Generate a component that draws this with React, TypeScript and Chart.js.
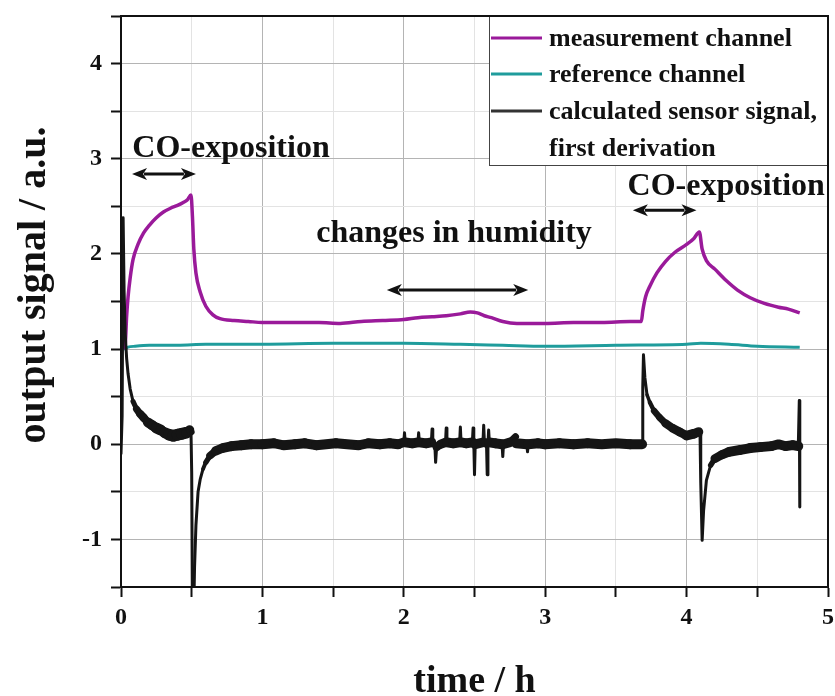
import { useEffect, useRef } from 'react';
import { Chart, registerables } from 'chart.js';

Chart.register(...registerables);

// ---------- data ----------
const measX = [0.02, 0.03, 0.04, 0.05, 0.065, 0.085, 0.12, 0.16, 0.2, 0.25, 0.3, 0.35, 0.4, 0.44, 0.47, 0.495, 0.505, 0.515, 0.53, 0.56, 0.6, 0.65, 0.7, 0.8, 0.9, 1.0, 1.2, 1.4, 1.55, 1.7, 1.85, 2.0, 2.1, 2.2, 2.3, 2.4, 2.47, 2.52, 2.57, 2.62, 2.7, 2.8, 2.9, 3.0, 3.2, 3.4, 3.6, 3.68, 3.69, 3.71, 3.74, 3.79, 3.85, 3.92, 4.0, 4.05, 4.09, 4.11, 4.14, 4.2, 4.28, 4.36, 4.45, 4.55, 4.65, 4.72, 4.8];
const measY = [1.0, 1.05, 1.35, 1.55, 1.75, 1.94, 2.1, 2.22, 2.3, 2.38, 2.44, 2.48, 2.51, 2.54, 2.57, 2.62, 2.4, 2.05, 1.8, 1.6, 1.45, 1.36, 1.32, 1.3, 1.29, 1.28, 1.28, 1.28, 1.27, 1.29, 1.3, 1.31, 1.33, 1.34, 1.35, 1.37, 1.39, 1.38, 1.35, 1.33, 1.29, 1.27, 1.27, 1.27, 1.28, 1.28, 1.29, 1.29, 1.4, 1.55, 1.66, 1.8, 1.92, 2.02, 2.1, 2.16, 2.23, 2.05, 1.93, 1.84, 1.72, 1.62, 1.54, 1.48, 1.44, 1.42, 1.38];

const refX = [0.02, 0.05, 0.1, 0.2, 0.4, 0.6, 1.0, 1.5, 2.0, 2.4, 2.7, 3.0, 3.5, 4.0, 4.1, 4.3, 4.5, 4.8];
const refY = [1.0, 1.02, 1.03, 1.04, 1.04, 1.05, 1.05, 1.06, 1.06, 1.05, 1.04, 1.03, 1.04, 1.05, 1.06, 1.05, 1.03, 1.02];

const derivX = [0.0, 0.008, 0.015, 0.022, 0.03, 0.04, 0.05, 0.065, 0.085, 0.11, 0.135, 0.16, 0.19, 0.22, 0.25, 0.28, 0.31, 0.34, 0.37, 0.4, 0.43, 0.46, 0.485, 0.495, 0.5, 0.505, 0.515, 0.52, 0.53, 0.545, 0.56, 0.58, 0.6, 0.63, 0.67, 0.72, 0.78, 0.85, 0.92, 1.0, 1.08, 1.15, 1.23, 1.3, 1.38, 1.45, 1.52, 1.6, 1.68, 1.75, 1.83, 1.9, 1.96,
  2.0, 2.005, 2.01, 2.06, 2.1, 2.105, 2.11, 2.16, 2.195, 2.2, 2.205, 2.22, 2.225, 2.232, 2.26, 2.295, 2.3, 2.305, 2.35, 2.395, 2.4, 2.405, 2.44, 2.485, 2.49, 2.495, 2.5, 2.505, 2.56, 2.565, 2.57, 2.585, 2.59, 2.595, 2.6, 2.605, 2.65, 2.695, 2.7, 2.705, 2.75, 2.79, 2.795, 2.87, 2.875, 2.88, 2.95,
  3.0, 3.1, 3.2, 3.3, 3.4, 3.5, 3.6, 3.685, 3.69, 3.695, 3.705, 3.72, 3.74, 3.77, 3.81, 3.85, 3.9, 3.95, 4.0, 4.05, 4.085, 4.095, 4.1, 4.11, 4.12, 4.14, 4.17, 4.2, 4.25, 4.3, 4.38, 4.45, 4.52, 4.6, 4.65, 4.7, 4.75, 4.79, 4.797, 4.8, 4.801];
const derivY = [-0.1, 0.3, 2.38, 1.6, 1.15, 0.9, 0.74, 0.58, 0.45, 0.37, 0.32, 0.28, 0.23, 0.2, 0.17, 0.15, 0.12, 0.1, 0.09, 0.1, 0.11, 0.12, 0.15, 0.13, -0.3, -1.7, -1.7, -1.3, -0.85, -0.5, -0.37, -0.26, -0.19, -0.12, -0.07, -0.04, -0.02, -0.01, 0.0, 0.0, 0.01, -0.01, 0.0, 0.01, -0.01, 0.0, 0.01, 0.0, -0.01, 0.01, 0.0, 0.01, 0.0,
  0.02, 0.12, 0.02, 0.01, 0.02, 0.12, 0.02, 0.01, 0.02, 0.16, 0.02, -0.02, -0.19, -0.03, 0.0, 0.02, 0.17, 0.02, 0.01, 0.02, 0.18, 0.02, 0.01, 0.02, 0.17, 0.02, -0.32, 0.0, 0.02, 0.2, 0.02, 0.0, -0.32, 0.0, 0.15, 0.02, 0.01, 0.0, -0.13, 0.0, 0.02, 0.08, 0.01, 0.0, -0.08, 0.0, 0.01,
  0.0, 0.01, 0.0, 0.01, 0.0, 0.01, 0.0, 0.0, 0.6, 0.94, 0.7, 0.52, 0.44, 0.35, 0.28, 0.22, 0.17, 0.13, 0.09, 0.11, 0.13, 0.1, -0.4, -1.01, -0.7, -0.38, -0.22, -0.15, -0.11, -0.08, -0.06, -0.04, -0.03, -0.02, 0.0, -0.02, -0.01, -0.02, 0.46, -0.66, -0.02];

const legendLabels = ['measurement channel', 'reference channel', 'calculated sensor signal,', 'first derivation'];
const xAxisTitle = 'time / h';
const yAxisTitle = 'output signal / a.u.';

// annotation texts (text centre x, baseline y) and double arrows (x1, x2, y), in data units
const noteTexts = ['CO-exposition', 'CO-exposition', 'changes in humidity'];
const noteTextX = [0.778, 4.28, 2.355];
const noteTextY = [3.02, 2.62, 2.13];
const arrowX1 = [0.078, 3.62, 1.88];
const arrowX2 = [0.53, 4.07, 2.88];
const arrowY = [2.84, 2.46, 1.62];

const PURPLE = '#9a1a9a';
const TEAL = '#1f9c9c';
const BLACK = '#151515';
const FONT = '"Liberation Serif", "Times New Roman", serif';

const pts = (xs: number[], ys: number[]) => xs.map((x, i) => ({ x, y: ys[i] }));

function drawArrow(ctx: CanvasRenderingContext2D, x1: number, x2: number, y: number) {
  const hl = 15, hw = 6;
  ctx.save();
  ctx.strokeStyle = '#111';
  ctx.fillStyle = '#111';
  ctx.lineWidth = 3;
  ctx.beginPath();
  ctx.moveTo(x1 + hl - 3, y);
  ctx.lineTo(x2 - hl + 3, y);
  ctx.stroke();
  ctx.beginPath();
  ctx.moveTo(x1, y);
  ctx.lineTo(x1 + hl, y - hw);
  ctx.lineTo(x1 + hl - 4, y);
  ctx.lineTo(x1 + hl, y + hw);
  ctx.closePath();
  ctx.fill();
  ctx.beginPath();
  ctx.moveTo(x2, y);
  ctx.lineTo(x2 - hl, y - hw);
  ctx.lineTo(x2 - hl + 4, y);
  ctx.lineTo(x2 - hl, y + hw);
  ctx.closePath();
  ctx.fill();
  ctx.restore();
}

const decorPlugin = {
  id: 'decor',
  afterDraw(chart: any) {
    const ctx: CanvasRenderingContext2D = chart.ctx;
    const { left, right, top, bottom } = chart.chartArea;
    const xs = chart.scales.x;
    const ys = chart.scales.y;

    // annotations
    ctx.save();
    ctx.fillStyle = '#111';
    ctx.font = `bold 32px ${FONT}`;
    ctx.textAlign = 'center';
    ctx.textBaseline = 'alphabetic';
    noteTexts.forEach((t, i) => {
      ctx.fillText(t, xs.getPixelForValue(noteTextX[i]), ys.getPixelForValue(noteTextY[i]));
    });
    ctx.restore();
    arrowX1.forEach((x1, i) => {
      drawArrow(ctx, xs.getPixelForValue(x1), xs.getPixelForValue(arrowX2[i]), ys.getPixelForValue(arrowY[i]));
    });

    // legend box
    const lx = 489, lb = 165;
    ctx.save();
    ctx.fillStyle = '#fff';
    ctx.fillRect(lx, top, right - lx, lb - top);
    ctx.strokeStyle = '#444';
    ctx.lineWidth = 1;
    ctx.strokeRect(lx + 0.5, top + 0.5, right - lx, lb - top);
    const colors = [PURPLE, TEAL, '#333', null];
    const rowY = [38, 74, 111, 148];
    ctx.font = `bold 26px ${FONT}`;
    ctx.fillStyle = '#111';
    ctx.textAlign = 'left';
    ctx.textBaseline = 'alphabetic';
    legendLabels.forEach((lab, i) => {
      const c = colors[i];
      if (c) {
        ctx.strokeStyle = c;
        ctx.lineWidth = 3;
        ctx.beginPath();
        ctx.moveTo(491, rowY[i]);
        ctx.lineTo(542, rowY[i]);
        ctx.stroke();
      }
      ctx.fillText(lab, 549, rowY[i] + 8);
    });
    ctx.restore();

    // frame
    ctx.save();
    ctx.strokeStyle = '#111';
    ctx.lineWidth = 2;
    ctx.strokeRect(left, top, right - left, bottom - top);
    ctx.restore();

    // axis titles
    ctx.save();
    ctx.fillStyle = '#111';
    ctx.textAlign = 'center';
    ctx.textBaseline = 'alphabetic';
    ctx.font = `bold 38px ${FONT}`;
    ctx.fillText(xAxisTitle, (left + right) / 2, 692);
    ctx.font = `bold 40px ${FONT}`;
    ctx.translate(45, 285);
    ctx.rotate(-Math.PI / 2);
    ctx.fillText(yAxisTitle, 0, 0);
    ctx.restore();
  },
};

const gridColor = (c: any) => (c.tick && Number.isInteger(c.tick.value) ? '#b4b4b4' : '#e3e3e3');
const tickCb = (v: any) => (Number.isInteger(Number(v)) ? String(v) : '');

// noisy trace: keep a constant vertical band thickness, thin for steep jumps
const derivSegWidth = (c: any) => {
  const dx = Math.abs(c.p1.x - c.p0.x);
  const dy = Math.abs(c.p1.y - c.p0.y);
  const band = derivX[c.p0DataIndex] < 0.5 ? 12 : 10;
  const s = dy / Math.max(dx, 0.01);
  return Math.max(3, band / Math.sqrt(1 + s * s));
};

export default function App() {
  const ref = useRef<HTMLCanvasElement | null>(null);
  useEffect(() => {
    document.body.style.margin = '0';
    const canvas = ref.current!;
    const chart = new Chart(canvas, {
      type: 'line',
      data: {
        datasets: [
          {
            label: 'calculated sensor signal, first derivation',
            data: pts(derivX, derivY),
            borderColor: BLACK,
            borderWidth: 8,
            borderJoinStyle: 'round',
            borderCapStyle: 'round',
            pointRadius: 0,
            tension: 0,
            segment: { borderWidth: derivSegWidth },
          } as any,
          {
            label: 'measurement channel',
            data: pts(measX, measY),
            borderColor: PURPLE,
            borderWidth: 3.5,
            pointRadius: 0,
            cubicInterpolationMode: 'monotone',
          },
          {
            label: 'reference channel',
            data: pts(refX, refY),
            borderColor: TEAL,
            borderWidth: 3,
            pointRadius: 0,
            cubicInterpolationMode: 'monotone',
          },
        ],
      },
      options: {
        animation: false,
        responsive: false,
        devicePixelRatio: 1,
        layout: { padding: { top: 16, right: 7, left: 0, bottom: 0 } },
        plugins: { legend: { display: false }, tooltip: { enabled: false } },
        scales: {
          x: {
            type: 'linear',
            min: 0,
            max: 5,
            afterFit: (s: any) => { s.height = 109; s.paddingLeft = 0; s.paddingRight = 0; },
            ticks: { stepSize: 0.5, autoSkip: false, maxRotation: 0, callback: tickCb, font: { family: FONT, size: 24, weight: 'bold' }, color: '#111', padding: 6 },
            grid: { color: gridColor, lineWidth: 1, tickLength: 10, tickColor: '#111', tickWidth: 2 },
            border: { color: '#111', width: 2 },
          },
          y: {
            type: 'linear',
            min: -1.5,
            max: 4.5,
            afterFit: (s: any) => { s.width = 121; s.paddingTop = 0; s.paddingBottom = 0; },
            ticks: { stepSize: 0.5, autoSkip: false, callback: tickCb, font: { family: FONT, size: 24, weight: 'bold' }, color: '#111', padding: 9 },
            grid: { color: gridColor, lineWidth: 1, tickLength: 10, tickColor: '#111', tickWidth: 2 },
            border: { color: '#111', width: 2 },
          },
        },
      } as any,
      plugins: [decorPlugin],
    });
    return () => chart.destroy();
  }, []);
  return <canvas ref={ref} width={835} height={696} style={{ display: 'block', width: 835, height: 696 }} />;
}
